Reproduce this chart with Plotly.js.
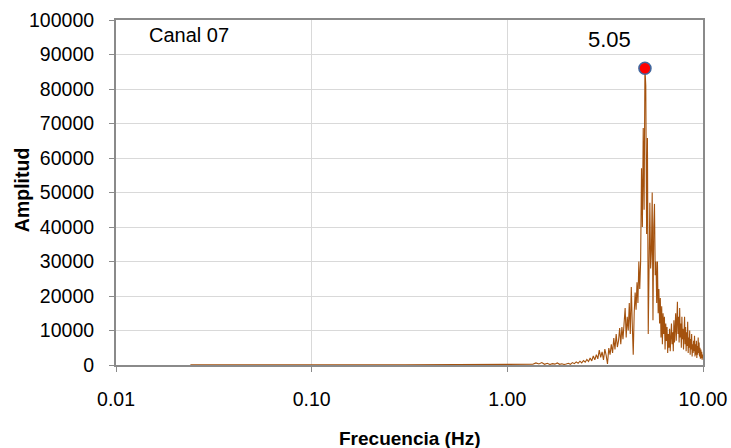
<!DOCTYPE html>
<html>
<head>
<meta charset="utf-8">
<script src="https://cdn.plot.ly/plotly-3.0.1.min.js"></script>
<style>
  html, body { margin: 0; padding: 0; background: #ffffff; }
  #chart { width: 731px; height: 448px; }
</style>
</head>
<body>
<div id="chart"></div>
<script>
// Amplitude spectrum of channel 07
const frequency = [
  0.024, 0.03, 0.04, 0.05, 0.07, 0.1, 0.15, 0.2, 0.3, 0.4, 0.5, 0.6, 0.7, 0.8, 0.9, 1.0, 1.1, 1.2, 1.3, 1.35,
  1.40, 1.45, 1.50, 1.55, 1.60, 1.65, 1.70, 1.75, 1.80, 1.85, 1.90, 1.95, 2.00, 2.05, 2.10, 2.15, 2.20, 2.25, 2.30, 2.35, 2.40, 2.45,
  2.50, 2.55, 2.60, 2.65, 2.70, 2.75, 2.80, 2.85, 2.90, 2.95,
  3.00, 3.05, 3.10, 3.15, 3.20, 3.25, 3.30, 3.35, 3.40, 3.45,
  3.50, 3.55, 3.60, 3.65, 3.70, 3.75, 3.80, 3.85, 3.90, 3.95,
  4.00, 4.05, 4.10, 4.15, 4.20, 4.25, 4.30, 4.35, 4.40, 4.45,
  4.50, 4.55, 4.60, 4.65, 4.70, 4.75, 4.80, 4.85, 4.90, 4.95,
  5.00, 5.05, 5.10, 5.15, 5.20, 5.25, 5.30, 5.35, 5.40, 5.45,
  5.50, 5.55, 5.60, 5.65, 5.70, 5.75, 5.80, 5.85, 5.90, 5.95,
  6.00, 6.05, 6.10, 6.15, 6.20, 6.25, 6.30, 6.35, 6.40, 6.45,
  6.50, 6.55, 6.60, 6.65, 6.70, 6.75, 6.80, 6.85, 6.90, 6.95,
  7.00, 7.05, 7.10, 7.15, 7.20, 7.25, 7.30, 7.35, 7.40, 7.45,
  7.50, 7.55, 7.60, 7.65, 7.70, 7.75, 7.80, 7.85, 7.90, 7.95,
  8.00, 8.05, 8.10, 8.15, 8.20, 8.25, 8.30, 8.35, 8.40, 8.45,
  8.50, 8.55, 8.60, 8.65, 8.70, 8.75, 8.80, 8.85, 8.90, 8.95,
  9.00, 9.05, 9.10, 9.15, 9.20, 9.25, 9.30, 9.35, 9.40, 9.45,
  9.50, 9.55, 9.60, 9.65, 9.70, 9.75, 9.80, 9.85, 9.90, 9.95, 10.00
];

const amplitude = [
  60, 40, 80, 50, 70, 40, 90, 60, 50, 80, 60, 100, 70, 90, 60, 120, 80, 150, 100, 200,
  600, 300, 700, 200, 500, 150, 400, 250, 600, 200, 350, 150, 300, 500, 200, 700, 400, 900, 500, 1100, 600, 1300,
  800, 1600, 1000, 2000, 1200, 2600, 1500, 3000, 1800, 4300,
  2200, 3800, 1500, 4600, 2800, 300, 4900, 3000, 6000, 3500,
  7800, 4500, 9000, 5200, 7000, 10700, 6000, 11000, 7500, 12500,
  16500, 8000, 14000, 10000, 18000, 9000, 22600, 12000, 3000, 15000,
  21000, 16000, 24000, 18000, 30000, 22000, 30000, 57000, 40000, 68700,
  45000, 86000, 81000, 38000, 65800, 9000, 35000, 47000, 28000, 33000,
  50000, 13000, 40000, 46700, 26000, 30000, 18000, 30000, 15000, 22000,
  12000, 19400, 8000, 17000, 6000, 15000, 9000, 14000, 4500, 12000,
  7000, 11000, 3500, 9000, 5000, 10500, 4000, 8500, 12000, 6000,
  9500, 4000, 13000, 6500, 11000, 15000, 7000, 12500, 18300, 9000,
  14000, 6500, 16500, 8000, 12000, 5000, 14000, 7500, 10500, 4500,
  9000, 14000, 6000, 11000, 4000, 9500, 5500, 12500, 3500, 8000,
  5000, 10000, 3000, 7500, 4500, 9000, 2500, 6000, 3500, 7000,
  4000, 8500, 2500, 6000, 3000, 7000, 2000, 5500, 3000, 8000,
  3500, 6500, 2500, 5000, 1800, 4500, 2000, 3800, 1500, 3000, 2000
];

// Dominant peak
const peakFrequency = [5.05];
const peakAmplitude = [86000];

const xTickValues = [0.01, 0.1, 1, 10];
const xTickLabels = ['0.01', '0.10', '1.00', '10.00'];

const channelName = 'Canal 07';

const axisGrey = '#8a8a8a';
const gridGrey = '#d9d9d9';
const fontFamily = '"Liberation Sans", Arial, sans-serif';

const traces = [
  {
    x: frequency,
    y: amplitude,
    type: 'scatter',
    mode: 'lines',
    line: { color: '#a4520e', width: 1.1 },
    hoverinfo: 'x+y'
  },
  {
    x: peakFrequency,
    y: peakAmplitude,
    type: 'scatter',
    mode: 'markers',
    marker: { color: '#ff0000', size: 12, line: { color: '#41679e', width: 1.6 } },
    hoverinfo: 'x+y'
  }
];

const layout = {
  width: 731,
  height: 448,
  margin: { l: 116, r: 28, t: 20, b: 83 },
  paper_bgcolor: '#ffffff',
  plot_bgcolor: '#ffffff',
  showlegend: false,
  font: { family: fontFamily, color: '#000000', size: 19 },
  xaxis: {
    type: 'log',
    range: [-2, 1],
    tickvals: xTickValues,
    ticktext: xTickLabels,
    showgrid: true,
    gridcolor: gridGrey,
    gridwidth: 1,
    showline: true,
    linecolor: axisGrey,
    linewidth: 2,
    mirror: true,
    ticks: 'outside',
    ticklen: 5,
    tickcolor: axisGrey,
    tickfont: { family: fontFamily, size: 19.5, color: '#000000' },
    ticklabelstandoff: 11,
    zeroline: false,
    automargin: false
  },
  yaxis: {
    range: [0, 100000],
    dtick: 10000,
    tick0: 0,
    tickformat: 'd',
    showgrid: true,
    gridcolor: gridGrey,
    gridwidth: 1,
    showline: true,
    linecolor: axisGrey,
    linewidth: 2,
    mirror: true,
    ticks: 'outside',
    ticklen: 5,
    tickcolor: axisGrey,
    tickfont: { family: fontFamily, size: 19.5, color: '#000000' },
    ticklabelstandoff: 11,
    zeroline: false,
    automargin: false
  },
  annotations: [
    {
      text: channelName,
      xref: 'paper', yref: 'paper',
      x: 0.0525, y: 0.956,
      xanchor: 'left', yanchor: 'middle',
      showarrow: false,
      font: { family: fontFamily, size: 20, color: '#000000' }
    },
    {
      text: peakFrequency[0].toFixed(2),
      xref: 'x', yref: 'y',
      x: Math.log10(peakFrequency[0]), y: peakAmplitude[0],
      xanchor: 'center', yanchor: 'middle',
      xshift: -35, yshift: 29,
      showarrow: false,
      font: { family: fontFamily, size: 22, color: '#000000' }
    },
    {
      text: '<b>Frecuencia (Hz)</b>',
      xref: 'paper', yref: 'paper',
      x: 0.5, y: -0.2116,
      xanchor: 'center', yanchor: 'middle',
      showarrow: false,
      font: { family: fontFamily, size: 19, color: '#000000' }
    },
    {
      text: '<b>Amplitud</b>',
      xref: 'paper', yref: 'paper',
      x: -0.160, y: 0.507,
      xanchor: 'center', yanchor: 'middle',
      textangle: -90,
      showarrow: false,
      font: { family: fontFamily, size: 19.5, color: '#000000' }
    }
  ]
};

Plotly.newPlot('chart', traces, layout, { displayModeBar: false, staticPlot: true });
</script>
</body>
</html>
